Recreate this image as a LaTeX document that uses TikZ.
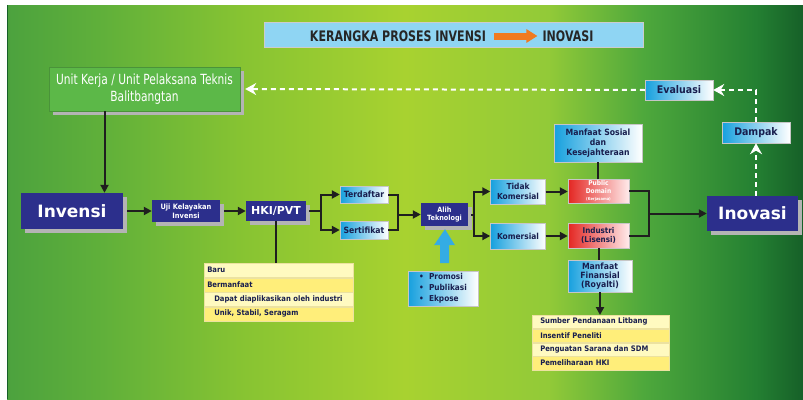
\documentclass[tikz,border=0pt]{standalone}
\usepackage{fontspec}
\setmainfont{DejaVu Sans}
\newfontfamily\titlefont[FakeStretch=0.76]{DejaVu Sans}
\newfontfamily\labelfont[FakeStretch=0.9]{DejaVu Sans}
\usetikzlibrary{calc,shadows,arrows.meta}

\definecolor{navy}{RGB}{44,47,140}
\definecolor{inktext}{RGB}{24,30,78}
\definecolor{boxgreen}{RGB}{92,184,72}
\definecolor{skyfill}{RGB}{143,213,243}
\definecolor{cyanbox}{RGB}{22,160,222}
\definecolor{arrowblue}{RGB}{52,172,228}
\definecolor{redbox}{RGB}{228,38,34}
\definecolor{shadowgray}{RGB}{180,180,180}
\definecolor{palerow}{RGB}{255,250,192}
\definecolor{yellowrow}{RGB}{255,238,122}
\definecolor{rowline}{RGB}{236,226,160}
\definecolor{arroworange}{RGB}{240,122,32}
\definecolor{bgA}{RGB}{76,162,62}
\definecolor{bgB}{RGB}{96,176,58}
\definecolor{bgC}{RGB}{136,196,50}
\definecolor{bgD}{RGB}{168,210,48}
\definecolor{bgE}{RGB}{146,202,56}
\definecolor{bgF}{RGB}{78,168,60}
\definecolor{bgG}{RGB}{36,128,50}
\definecolor{bgH}{RGB}{22,96,40}

\pgfdeclarehorizontalshading{leafshade}{100bp}{color(0bp)=(bgA); color(25bp)=(bgA); color(31bp)=(bgB); color(40bp)=(bgC); color(50bp)=(bgD); color(59bp)=(bgE); color(65bp)=(bgF); color(72bp)=(bgG); color(75bp)=(bgH); color(100bp)=(bgH)}

\tikzset{
  castshadow/.style={drop shadow={shadow xshift=4pt,shadow yshift=-4pt,fill=shadowgray,opacity=1}},
  navybox/.style={fill=navy, text=white, inner sep=0pt, align=center, castshadow},
  cyanfade/.style={left color=cyanbox, right color=white, draw=gray!45, line width=0.4pt,
    text=inktext, inner sep=0pt, align=center, font=\labelfont\bfseries},
  redfade/.style={left color=redbox, right color=red!8!white, draw=gray!45, line width=0.4pt,
    inner sep=0pt, align=center, font=\labelfont\bfseries},
  tablerow/.style={anchor=north west, draw=rowline, line width=0.5pt, inner xsep=3pt, inner ysep=0pt,
    minimum height=14pt, text=inktext, font=\labelfont\bfseries\fontsize{7.6}{8.5}\selectfont},
  wire/.style={line width=2pt, black!88},
  wirearrow/.style={wire, -{Triangle[length=8pt,width=8pt]}},
  backflow/.style={white, line width=2pt, dash pattern=on 5pt off 4pt},
  backtip/.style={-{Stealth[length=11pt,width=12pt]}}
}

\begin{document}
\begin{tikzpicture}[x=1pt,y=-1pt]
  \useasboundingbox (0,0) rectangle (803,399);

  %%%%% BACKGROUND %%%%%
  \fill[white] (0,0) rectangle (803,399);
  \shade[shading=leafshade] (7,5) rectangle (803,399);
  \draw[bgH, line width=1pt] (7.5,5) -- (7.5,399);

  %%%%% TITLE %%%%%
  \node[fill=skyfill, draw=gray!40, minimum width=379pt, minimum height=25pt, inner sep=0pt] (title) at (453.5,35) {};
  \node[font=\titlefont\bfseries\fontsize{14.5}{16}\selectfont, text=black!85, inner sep=0pt] (titleleft) at (398,36) {KERANGKA PROSES INVENSI};
  \node[font=\titlefont\bfseries\fontsize{14.5}{16}\selectfont, text=black!85, inner sep=0pt] (titleright) at (568,36) {INOVASI};
  \draw[arroworange, line width=7pt, -{Triangle[length=11pt,width=13pt]}] ([xshift=8pt]titleleft.east) -- ([xshift=-5pt]titleright.west);

  %%%%% MAIN ROW %%%%%
  \node[fill=boxgreen, text=white, draw=boxgreen!80!black, line width=0.4pt, inner sep=0pt, align=center,
    minimum width=191pt, minimum height=44pt, castshadow,
    font=\titlefont\fontsize{14}{17}\selectfont] (unitkerja) at (144.5,89) {Unit Kerja / Unit Pelaksana Teknis\\Balitbangtan};

  \node[navybox, minimum width=102pt, minimum height=36pt, font=\bfseries\fontsize{17}{18}\selectfont] (invensi) at (72,211) {Invensi};
  \node[navybox, minimum width=68pt, minimum height=22pt, font=\labelfont\bfseries\fontsize{7.4}{8.6}\selectfont] (uji) at (186,211) {Uji Kelayakan\\Invensi};
  \node[navybox, minimum width=60pt, minimum height=20pt, font=\bfseries\fontsize{11}{12}\selectfont] (hki) at (276,211) {HKI/PVT};

  \node[cyanfade, minimum width=48pt, minimum height=17pt, font=\labelfont\bfseries\fontsize{8.6}{9}\selectfont] (terdaftar) at (364,194.5) {Terdaftar};
  \node[cyanfade, minimum width=48pt, minimum height=18pt, font=\labelfont\bfseries\fontsize{8.6}{9}\selectfont] (sertifikat) at (364,230) {Sertifikat};

  \node[navybox, minimum width=47pt, minimum height=23pt, font=\labelfont\bfseries\fontsize{7.2}{8.4}\selectfont] (alih) at (444.5,214.5) {Alih\\Teknologi};

  \node[cyanfade, minimum width=55pt, minimum height=25pt, font=\labelfont\bfseries\fontsize{8.3}{9.8}\selectfont] (tidak) at (518,191.5) {Tidak\\Komersial};
  \node[cyanfade, minimum width=55pt, minimum height=26pt, font=\labelfont\bfseries\fontsize{8.3}{9.8}\selectfont] (komersial) at (518,236) {Komersial};

  \node[redfade, text=white, minimum width=61pt, minimum height=24pt, font=\labelfont\bfseries\fontsize{6.6}{7.5}\selectfont] (public) at (598.5,191) {Public\\Domain\\{\fontsize{4}{5}\selectfont(Kerjasama)}};
  \node[redfade, text=inktext, minimum width=61pt, minimum height=25pt, font=\labelfont\bfseries\fontsize{8}{9.8}\selectfont] (industri) at (598.5,235.5) {Industri\\(Lisensi)};

  \node[cyanfade, minimum width=88pt, minimum height=38pt, font=\labelfont\bfseries\fontsize{8.6}{9.8}\selectfont] (sosial) at (598,143) {Manfaat Sosial\\dan\\Kesejahteraan};
  \node[cyanfade, minimum width=64pt, minimum height=32pt, font=\labelfont\bfseries\fontsize{8.6}{8.8}\selectfont] (finansial) at (600,276) {Manfaat\\Finansial\\(Royalti)};

  \node[cyanfade, minimum width=70pt, minimum height=35pt, align=left, font=\labelfont\bfseries\fontsize{8.2}{10.8}\selectfont] (promo) at (443,288.5) {\textbullet\ \ Promosi\\\textbullet\ \ Publikasi\\\textbullet\ \ Ekpose};

  \node[navybox, minimum width=91pt, minimum height=35pt, font=\bfseries\fontsize{17}{18}\selectfont] (inovasi) at (752.5,213.5) {Inovasi};

  \node[cyanfade, minimum width=68pt, minimum height=21pt, font=\labelfont\bfseries\fontsize{10.5}{11}\selectfont] (dampak) at (756,132.5) {Dampak};
  \node[cyanfade, minimum width=68pt, minimum height=20pt, font=\labelfont\bfseries\fontsize{10.5}{11}\selectfont] (evaluasi) at (679,90) {Evaluasi};

  %%%%% TABLES %%%%%
  \node[tablerow, fill=palerow, text width=143pt] (hkiA) at (204,263) {Baru};
  \node[tablerow, fill=yellowrow, text width=143pt] (hkiB) at (hkiA.south west) {Bermanfaat};
  \node[tablerow, fill=palerow, text width=143pt] (hkiC) at (hkiB.south west) {\hspace*{7pt}Dapat diaplikasikan oleh industri};
  \node[tablerow, fill=yellowrow, text width=143pt] (hkiD) at (hkiC.south west) {\hspace*{7pt}Unik, Stabil, Seragam};

  \node[tablerow, fill=palerow, text width=131pt, minimum height=13.25pt] (royA) at (532,315) {\hspace*{5pt}Sumber Pendanaan Litbang};
  \node[tablerow, fill=yellowrow, text width=131pt, minimum height=13.25pt] (royB) at (royA.south west) {\hspace*{5pt}Insentif Peneliti};
  \node[tablerow, fill=palerow, text width=131pt, minimum height=13.25pt] (royC) at (royB.south west) {\hspace*{5pt}Penguatan Sarana dan SDM};
  \node[tablerow, fill=yellowrow, text width=131pt, minimum height=13.25pt] (royD) at (royC.south west) {\hspace*{5pt}Pemeliharaan HKI};

  %%%%% CONNECTORS %%%%%
  \draw[wirearrow] ([xshift=-40pt]unitkerja.south) -- ([xshift=-40pt]unitkerja.south |- invensi.north);
  \draw[wirearrow] ([xshift=4pt]invensi.east) -- (uji.west);
  \draw[wirearrow] ([xshift=4pt]uji.east) -- (hki.west);

  \draw[wire] ([xshift=3pt]hki.east) -- ++(12,0) coordinate (hkisplit);
  \draw[wirearrow] (hkisplit) |- (terdaftar.west);
  \draw[wirearrow] (hkisplit) |- (sertifikat.west);
  \coordinate (tsmerge) at (398,214.5);
  \draw[wire] (terdaftar.east) -| (tsmerge);
  \draw[wire] (sertifikat.east) -| (tsmerge);
  \draw[wirearrow] (tsmerge) -- (alih.west);
  \draw[wire] (hki.south) -- (hki.south |- hkiA.north);

  \draw[wire] ([xshift=3pt]alih.east) -- ++(3,0) coordinate (alihsplit);
  \draw[wirearrow] (alihsplit) |- (tidak.west);
  \draw[wirearrow] (alihsplit) |- (komersial.west);
  \draw[wirearrow] (tidak.east) -- (public.west |- tidak.east);
  \draw[wirearrow] (komersial.east) -- (industri.west |- komersial.east);

  \coordinate (pimerge) at (649,213.5);
  \draw[wire] (public.east) -| (pimerge);
  \draw[wire] (industri.east) -| (pimerge);
  \draw[wirearrow] (pimerge) -- (inovasi.west);

  \draw[wire] (sosial.south) -- (sosial.south |- public.north);
  \draw[wire] (industri.south) -- (industri.south |- finansial.north);
  \draw[wirearrow] (finansial.south) -- (finansial.south |- royA.north);

  % feedback loop
  \draw[backflow, backtip] (dampak.south |- inovasi.north) -- (dampak.south);
  \draw[backflow, backtip] (dampak.north) |- (evaluasi.east);
  \draw[backflow, backtip] (evaluasi.west) -- ([xshift=5pt]unitkerja.east);

  % push arrow under Alih Teknologi
  \fill[arrowblue] ($(alih.south)+(0.5,3)$) -- ++(10,16) -- ++(-6,0) -- ++(0,18) -- ++(-9,0) -- ++(0,-18) -- ++(-6,0) -- cycle;
\end{tikzpicture}
\end{document}
